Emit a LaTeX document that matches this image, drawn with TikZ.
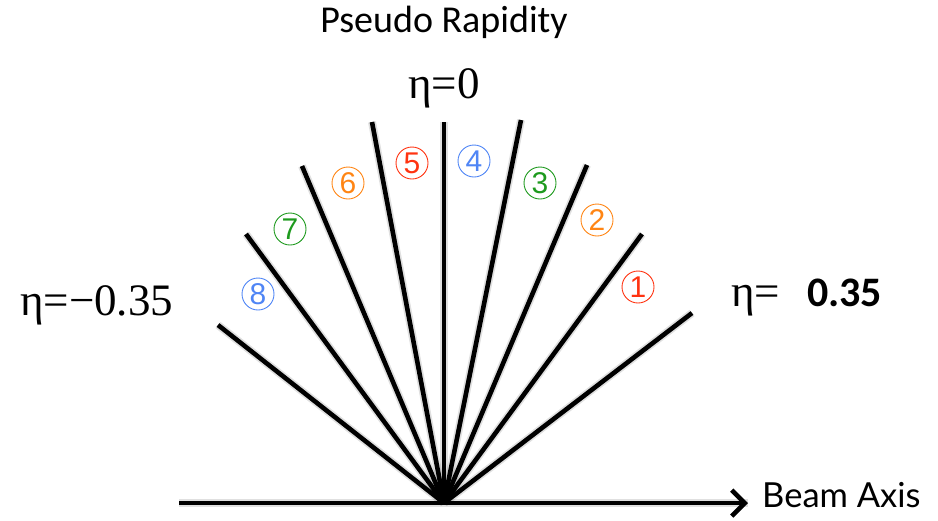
\documentclass[tikz,border=0pt]{standalone}
\usepackage{fontspec}
\setmainfont{Liberation Serif}
\newfontfamily\calfont{Carlito}
\newfontfamily\gillfont{Lato}
\newfontfamily\helvfont{Liberation Sans}
\usetikzlibrary{arrows.meta}
\definecolor{cred}{HTML}{FF3311}
\definecolor{corange}{HTML}{FF8514}
\definecolor{cgreen}{HTML}{1E9A1E}
\definecolor{cblue}{HTML}{4F85F5}
\begin{document}
\begin{tikzpicture}[x=1pt,y=-1pt,
  ray/.style={line width=4.6pt},
  shadowline/.style={line width=8pt,black,opacity=0.12},
  circnum/.style={circle,draw,line width=0.9pt,inner sep=0pt,minimum size=32pt,
    font=\helvfont\fontsize{30}{30}\selectfont},
  serifeta/.style={font=\fontsize{45}{48}\selectfont,inner sep=0pt},
]
\useasboundingbox (0,0) rectangle (938,520);
\coordinate (O) at (444,503);
\coordinate (e0) at (692,313);
\coordinate (e1) at (642,234);
\coordinate (e2) at (587,165);
\coordinate (e3) at (521,120);
\coordinate (e4) at (444,122);
\coordinate (e5) at (372,122);
\coordinate (e6) at (302,166);
\coordinate (e7) at (246,234);
\coordinate (e8) at (218,325);
\coordinate (bl) at (179,503);
\coordinate (br) at (748,503);
% shadows
\foreach \e in {e0,e1,e2,e3,e4,e5,e6,e7,e8}
  \draw[shadowline,shift={(2pt,-4pt)}] (O) -- (\e);
\draw[shadowline,shift={(1pt,-6pt)}] (bl) -- (br);
% rays
\foreach \e in {e0,e1,e2,e3,e4,e5,e6,e7,e8}
  \draw[ray] (O) -- (\e);
\draw[ray,-{Straight Barb[length=13pt,width=26pt]}] (bl) -- (br);
\node[anchor=west,inner sep=0pt,font=\gillfont\fontsize{34.5}{38}\selectfont] (beam) at (762,495) {Beam Axis};
% labels
\node[font=\calfont\fontsize{38}{42}\selectfont] (title) at (444,22) {Pseudo Rapidity};
\node[serifeta] (eta0) at (444,88) {η=0};
\node[serifeta,anchor=west] (etaneg) at (20,305) {η=−0.35};
\node[anchor=west,inner sep=0pt] (etapos) at (731,298) {{\fontsize{45}{48}\selectfont η=}\hspace{27pt}{\calfont\bfseries\fontsize{42}{44}\selectfont 0.35}};
% circled numbers
\node[circnum,draw=cred,text=cred] (n1) at (638,287) {1};
\node[circnum,draw=corange,text=corange] (n2) at (597,220) {2};
\node[circnum,draw=cgreen,text=cgreen] (n3) at (540,183) {3};
\node[circnum,draw=cblue,text=cblue] (n4) at (474,161) {4};
\node[circnum,draw=cred,text=cred] (n5) at (412,163) {5};
\node[circnum,draw=corange,text=corange] (n6) at (348,183) {6};
\node[circnum,draw=cgreen,text=cgreen] (n7) at (290,229) {7};
\node[circnum,draw=cblue,text=cblue] (n8) at (258,294) {8};
\end{tikzpicture}
\end{document}
